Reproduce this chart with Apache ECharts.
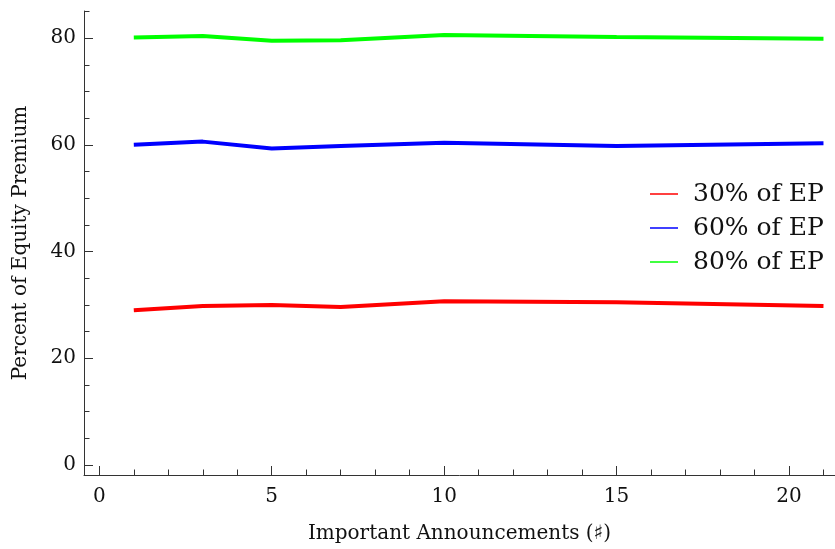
<!DOCTYPE html>
<html>
<head>
<meta charset="utf-8">
<script src="https://cdn.jsdelivr.net/npm/echarts@6/dist/echarts.min.js"></script>
<style>
  html, body { margin: 0; padding: 0; background: #fff; }
  #chart { width: 835px; height: 549px; }
</style>
</head>
<body>
<div id="chart"></div>
<script>
// Number of important announcements on the horizontal axis
const announcements = [1, 3, 5, 7, 10, 15, 21];
// Percent of equity premium for each target level
const ep30 = [29.0, 29.8, 30.0, 29.6, 30.7, 30.5, 29.8];
const ep60 = [60.0, 60.6, 59.3, 59.8, 60.4, 59.8, 60.3];
const ep80 = [80.1, 80.4, 79.5, 79.6, 80.6, 80.2, 79.9];
const seriesNames = ['30% of EP', '60% of EP', '80% of EP'];
const seriesColors = ['#ff0000', '#0000ff', '#00ff00'];

// Tick positions
const xMajorTicks = [0, 5, 10, 15, 20];
const xMinorTicks = Array.from({ length: 22 }, (_, i) => i);
const yMajorTicks = [0, 20, 40, 60, 80];
const yMinorTicks = Array.from({ length: 18 }, (_, i) => i * 5);

const FONT = 'DejaVu Serif';
const AXIS_COLOR = '#333';
const TEXT_COLOR = '#111';

const pairs = (ys) => announcements.map((x, i) => [x, ys[i]]);

const xRange = { min: -0.444, max: 21.334 };
const yRange = { min: -1.88, max: 85.08 };

const chart = echarts.init(document.getElementById('chart'), null, { renderer: 'canvas' });

const option = {
  animation: false,
  backgroundColor: '#fff',
  grid: { left: 84, right: 0, top: 11, bottom: 71, containLabel: false },
  legend: {
    orient: 'vertical',
    left: 645,
    top: 176,
    icon: 'rect',
    itemWidth: 28,
    itemHeight: 1.5,
    itemGap: 8,
    data: seriesNames,
    textStyle: {
      fontFamily: FONT,
      fontSize: 25,
      color: TEXT_COLOR,
      lineHeight: 26,
      padding: [0, 0, 0, 10]
    }
  },
  xAxis: [
    {
      type: 'value',
      min: xRange.min,
      max: xRange.max,
      name: 'Important Announcements (\u266F)',
      nameLocation: 'middle',
      nameGap: 49,
      nameTextStyle: { fontFamily: FONT, fontSize: 20, color: TEXT_COLOR },
      axisLine: { show: true, onZero: false, lineStyle: { color: AXIS_COLOR, width: 1 } },
      axisTick: { show: true, inside: true, length: 9, customValues: xMajorTicks, lineStyle: { color: AXIS_COLOR } },
      axisLabel: { show: true, customValues: xMajorTicks, margin: 12, fontFamily: FONT, fontSize: 20, color: TEXT_COLOR },
      splitLine: { show: false }
    },
    {
      type: 'value',
      min: xRange.min,
      max: xRange.max,
      position: 'bottom',
      axisLine: { show: false, onZero: false },
      axisTick: { show: true, inside: true, length: 5.5, customValues: xMinorTicks, lineStyle: { color: AXIS_COLOR } },
      axisLabel: { show: false },
      splitLine: { show: false }
    }
  ],
  yAxis: [
    {
      type: 'value',
      min: yRange.min,
      max: yRange.max,
      name: 'Percent of Equity Premium',
      nameLocation: 'middle',
      nameGap: 53,
      nameTextStyle: { fontFamily: FONT, fontSize: 20, color: TEXT_COLOR },
      axisLine: { show: true, onZero: false, lineStyle: { color: AXIS_COLOR, width: 1 } },
      axisTick: { show: true, inside: true, length: 9, customValues: yMajorTicks, lineStyle: { color: AXIS_COLOR } },
      axisLabel: { show: true, customValues: yMajorTicks, margin: 8, fontFamily: FONT, fontSize: 20, color: TEXT_COLOR },
      splitLine: { show: false }
    },
    {
      type: 'value',
      min: yRange.min,
      max: yRange.max,
      position: 'left',
      axisLine: { show: false, onZero: false },
      axisTick: { show: true, inside: true, length: 5.5, customValues: yMinorTicks, lineStyle: { color: AXIS_COLOR } },
      axisLabel: { show: false },
      splitLine: { show: false }
    }
  ],
  series: [ep30, ep60, ep80].map((vals, i) => ({
    name: seriesNames[i],
    type: 'line',
    xAxisIndex: 0,
    yAxisIndex: 0,
    data: pairs(vals),
    showSymbol: false,
    symbol: 'none',
    color: seriesColors[i],
    lineStyle: { color: seriesColors[i], width: 4 },
    emphasis: { disabled: true }
  }))
};

chart.setOption(option);
</script>
</body>
</html>
